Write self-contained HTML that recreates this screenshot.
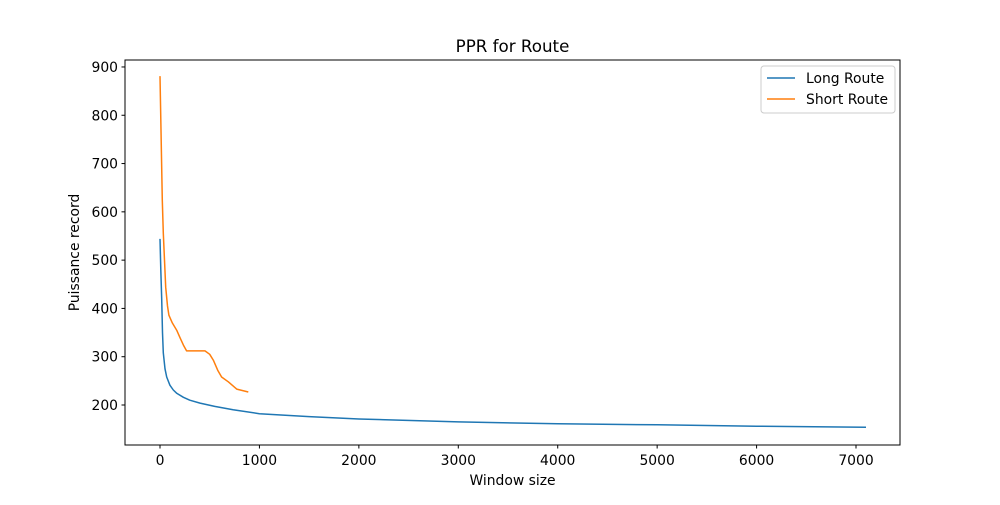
<!DOCTYPE html>
<html><head><meta charset="utf-8"><style>
body{margin:0;background:#fff}
svg text{font-family:"DejaVu Sans","Liberation Sans",sans-serif;fill:#000}
</style></head><body>
<svg id="chart" width="1000" height="500" xmlns="http://www.w3.org/2000/svg">
<rect width="1000" height="500" fill="#fff"/>
<text x="512.5" y="52" font-size="16.7" text-anchor="middle">PPR for Route</text>
<g id="marks"></g>
<g id="axes"></g>
<rect x="125" y="60" width="775" height="385" fill="none" stroke="#000" stroke-width="1"/>
<text x="512.5" y="485" font-size="13.9" text-anchor="middle">Window size</text>
<text transform="translate(79,252.5) rotate(-90)" font-size="13.9" text-anchor="middle">Puissance record</text>
<g>
<rect x="761" y="66" width="134" height="47" rx="3" fill="#fff" stroke="#ccc"/>
<line x1="767" y1="78" x2="795" y2="78" stroke="#1f77b4" stroke-width="1.5"/>
<text x="806" y="83" font-size="13.9">Long Route</text>
<line x1="767" y1="99" x2="795" y2="99" stroke="#ff7f0e" stroke-width="1.5"/>
<text x="806" y="104" font-size="13.9">Short Route</text>
</g>
</svg>
<script>
const xTicks=[0,1000,2000,3000,4000,5000,6000,7000];
const yTicks=[200,300,400,500,600,700,800,900];
const longX=[0,8,17,25,33,50,67,100,134,170,235,300,402,550,735,1000,1500,2000,3000,4000,5000,6000,7100];
const longY=[544,480,420,350,308,275,258,241,231,224,216,210,204,197,190,182,176,171,165,161,159,156,154];
const shortX=[0,23,33,57,75,90,124,168,200,235,268,453,500,536,580,620,687,771,888];
const shortY=[881,624,556,444,405,386,370,355,340,324,312,312,305,293,272,258,248,233,227];
const ns="http://www.w3.org/2000/svg";
const sx=v=>160+v*0.09943;
const sy=v=>405-(v-200)*0.4829;
const axes=document.getElementById('axes'),marks=document.getElementById('marks');
function mk(t,a,p){const e=document.createElementNS(ns,t);for(const k in a)e.setAttribute(k,a[k]);p.appendChild(e);return e;}
xTicks.forEach(v=>{
 const l=mk('line',{x1:sx(v),x2:sx(v),y1:445,y2:448.5,stroke:'#000'},axes);
 
 
 const t=mk('text',{x:sx(v),y:465,'font-size':13.9,'text-anchor':'middle'},axes);t.textContent=v;
 
 
});
yTicks.forEach(v=>{
 const l=mk('line',{x1:121.5,x2:125,y1:sy(v),y2:sy(v),stroke:'#000'},axes);
 
 
 const t=mk('text',{x:118,y:sy(v)+5,'font-size':13.9,'text-anchor':'end'},axes);t.textContent=v;
 
 
});
function line(xs,ys,c,name){
 const d=xs.map((x,i)=>(i?'L':'M')+sx(x).toFixed(1)+' '+sy(ys[i]).toFixed(1)).join(' ');
 const p=mk('path',{d:d,fill:'none',stroke:c,'stroke-width':1.5,'stroke-linejoin':'round'},marks);
 
 
}
line(longX,longY,'#1f77b4','long-route-line');
line(shortX,shortY,'#ff7f0e','short-route-line');
</script>
</body></html>
